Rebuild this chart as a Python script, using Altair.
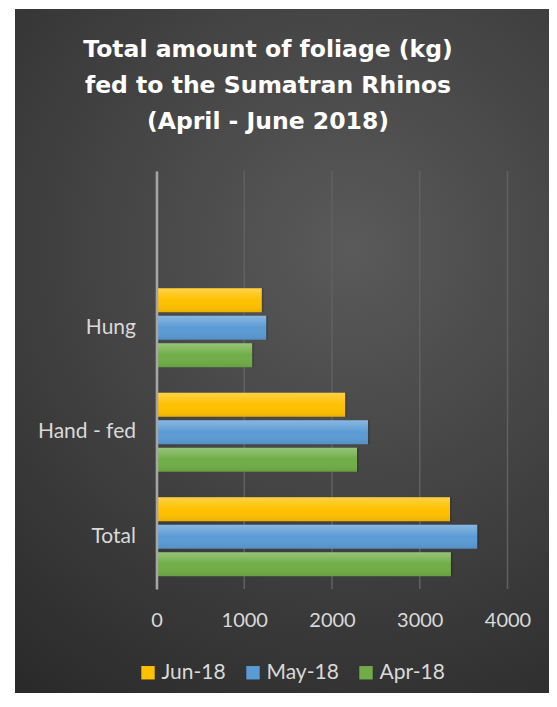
import altair as alt
import pandas as pd

categories = ["Hung", "Hand - fed", "Total"]
series = ["Jun-18", "May-18", "Apr-18"]
jun_18 = [1200, 2150, 3345]
may_18 = [1250, 2410, 3655]
apr_18 = [1090, 2285, 3355]
x_ticks = [0, 1000, 2000, 3000, 4000]
colors = ["#FFC000", "#5B9BD5", "#70AD47"]
title_lines = ["Total amount of foliage (kg)", "fed to the Sumatran Rhinos", "(April - June 2018)"]

rows = []
for s, vals in zip(series, [jun_18, may_18, apr_18]):
    for c, v in zip(categories, vals):
        rows.append({"category": c, "series": s, "value": v})
df = pd.DataFrame(rows)

FONT = "Lato"
LABEL_COLOR = "#d9d9d9"

y_domain = [" "] + categories

x_enc = alt.X("value:Q", scale=alt.Scale(domain=[0, 4000], nice=False, zero=True),
              axis=alt.Axis(values=x_ticks, format="d", title=None, grid=False, domain=False,
                            ticks=False, labelFont=FONT, labelFontSize=20, labelFlush=False,
                            labelColor=LABEL_COLOR, labelPadding=21, zindex=1))
y_enc = alt.Y("category:N", scale=alt.Scale(domain=y_domain, paddingInner=0, paddingOuter=0),
              axis=alt.Axis(title=None, ticks=False, domain=True, domainColor="#a6a6a6",
                            domainWidth=2.5, labelFont=FONT, labelFontSize=21,
                            labelColor=LABEL_COLOR, labelPadding=21, zindex=1))
yoff_enc = alt.YOffset("series:N", sort=series,
                       scale=alt.Scale(domain=series, paddingInner=0.127, paddingOuter=0.464))

bg = alt.Chart(alt.Data(values=[{}])).mark_rect(
    fill={"gradient": "radial", "x1": 0.6, "y1": 0.35, "r1": 0, "x2": 0.6, "y2": 0.35, "r2": 0.8,
          "stops": [{"offset": 0, "color": "#5a5a5a"}, {"offset": 1, "color": "#2a2a2a"}]}
).encode(x=alt.value(-141.5), x2=alt.value(392.5), y=alt.value(-162), y2=alt.value(522))

title_df = pd.DataFrame({"title": ["\n".join(title_lines)]})
title = alt.Chart(title_df).mark_text(
    font="DejaVu Sans", fontWeight="bold", fontSize=23.5, color="white",
    align="center", baseline="alphabetic", lineBreak="\n", lineHeight=36
).encode(text="title:N", x=alt.value(111.5), y=alt.value(-114))

grid = alt.Chart(pd.DataFrame({"tick": x_ticks})).mark_rule(
    color="#606060", strokeWidth=1.5
).encode(x=alt.X("tick:Q", scale=alt.Scale(domain=[0, 4000], nice=False)))

shadow = alt.Chart(df).mark_bar(color="black", opacity=0.14, xOffset=2, yOffset=3).encode(
    x=x_enc, y=y_enc, yOffset=yoff_enc)

bars = alt.Chart(df).mark_bar(opacity=1).encode(
    x=x_enc, y=y_enc, yOffset=yoff_enc,
    color=alt.Color("series:N", sort=series,
                    scale=alt.Scale(domain=series, range=colors),
                    legend=alt.Legend(title=None, orient="none", direction="horizontal",
                                      legendX=-19, legendY=491, symbolType="square",
                                      symbolSize=180, symbolStrokeWidth=0, symbolOpacity=1,
                                      labelFont=FONT, labelFontSize=21, labelColor=LABEL_COLOR,
                                      labelOffset=3, columnPadding=16)))

gloss = alt.Chart(df).mark_bar(
    fill={"gradient": "linear", "x1": 0, "y1": 0, "x2": 0, "y2": 1,
          "stops": [{"offset": 0, "color": "rgba(255,255,255,0.28)"},
                    {"offset": 0.5, "color": "rgba(255,255,255,0)"},
                    {"offset": 1, "color": "rgba(0,0,0,0.08)"}]}
).encode(x=x_enc, y=y_enc, yOffset=yoff_enc)

chart = alt.layer(bg, grid, shadow, bars, gloss, title).properties(
    width=351, height=418,
    padding={"left": 148.5, "top": 163, "right": 41.5, "bottom": 104},
    autosize=alt.AutoSizeParams(type="none"),
    background="white",
).configure_view(stroke=None)

chart.save("out.html", embed_options={"renderer": "svg", "actions": False})
